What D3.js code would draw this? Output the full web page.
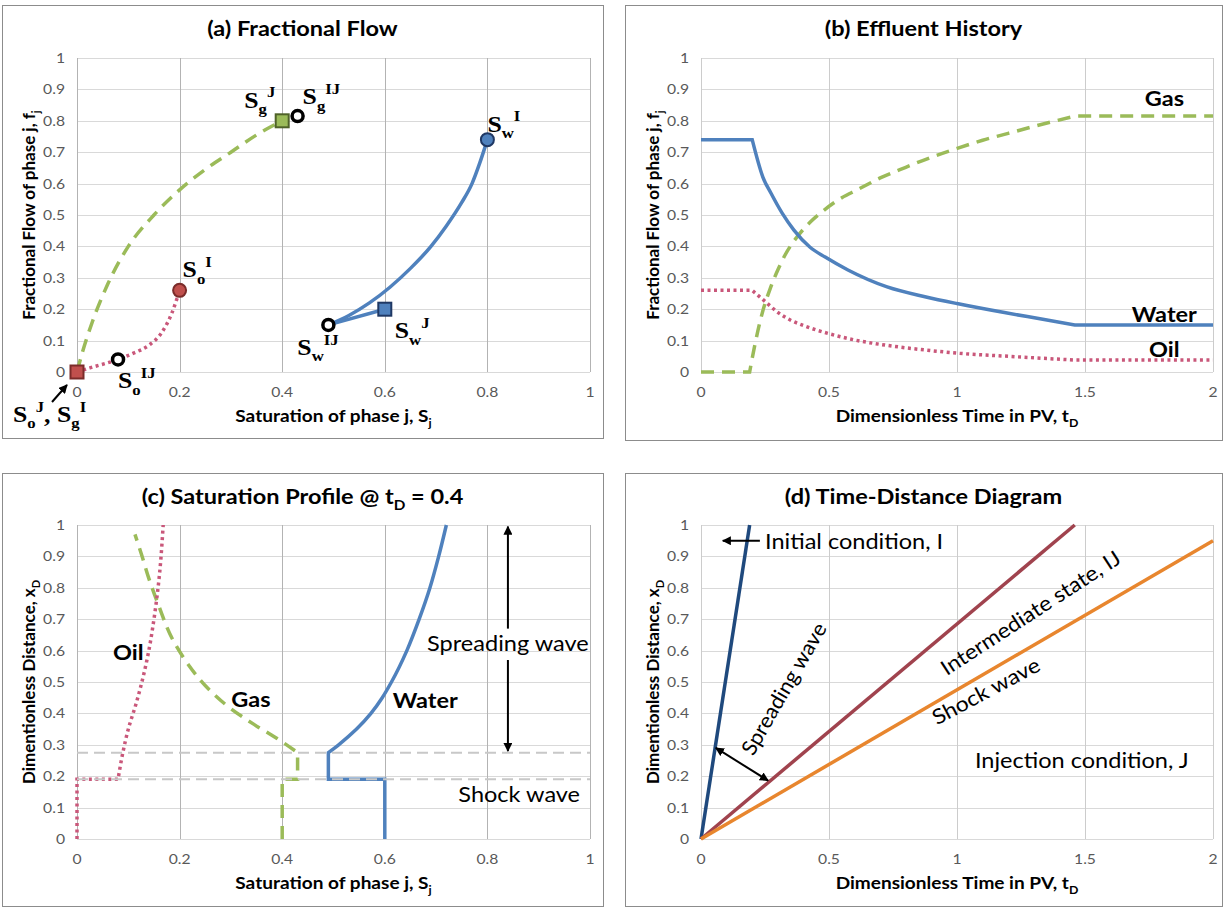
<!DOCTYPE html>
<html lang="en">
<head>
<meta charset="UTF-8">
<style>
  body { margin: 0; background: #fff; }
  svg text { font-family: Lato, "Open Sans", sans-serif; }
  .tick { fill: #595959; font-size: 14px; }
  .axis-title { font-weight: bold; font-size: 17px; }
  .panel-title { font-weight: bold; font-size: 21px; }
  .pt { font-family: "Liberation Serif", "Times New Roman", serif; font-weight: bold; font-size: 23px; }
  .bold-lbl { font-weight: bold; font-size: 21px; }
  .note { font-size: 21px; }
</style>
</head>
<body>
<svg id="fig" width="1225" height="909"></svg>
<script src="https://cdnjs.cloudflare.com/ajax/libs/d3/7.8.5/d3.min.js"></script>
<script>
// tick values
const satTicks = [0, 0.2, 0.4, 0.6, 0.8, 1]
const timeTicks = [0, 0.5, 1, 1.5, 2]
const unitTicks = [0, 0.1, 0.2, 0.3, 0.4, 0.5, 0.6, 0.7, 0.8, 0.9, 1]

// (a) fractional flow vs saturation
const gasFracS = [0, 0.01, 0.03, 0.06, 0.1, 0.15, 0.2, 0.25, 0.3, 0.35, 0.4]
const gasFracF = [0, 0.06, 0.16, 0.28, 0.4, 0.5, 0.58, 0.645, 0.7, 0.755, 0.8]
const oilFracS = [0, 0.025, 0.08, 0.11, 0.14, 0.165, 0.185, 0.2]
const oilFracF = [0, 0.013, 0.04, 0.06, 0.085, 0.125, 0.188, 0.26]
const waterFracS = [0.49, 0.53, 0.57, 0.61, 0.65, 0.69, 0.72, 0.75, 0.77, 0.785, 0.8]
const waterFracF = [0.15, 0.18, 0.22, 0.27, 0.33, 0.4, 0.465, 0.54, 0.6, 0.665, 0.74]
const waterJumpS = [0.49, 0.6]
const waterJumpF = [0.15, 0.2]
// states: J squares, I filled circles, IJ open circles
const jPhase = ['oil', 'gas', 'water']
const jS = [0, 0.4, 0.6]
const jF = [0, 0.8, 0.2]
const iPhase = ['oil', 'water']
const iS = [0.2, 0.8]
const iF = [0.26, 0.74]
const ijS = [0.08, 0.43, 0.49]
const ijF = [0.04, 0.815, 0.15]

// (b) effluent history
const waterHistT = [0, 0.2, 0.242, 0.273, 0.317, 0.363, 0.425, 0.485, 0.574, 0.727, 0.879, 1.0, 1.18, 1.335, 1.46, 2]
const waterHistF = [0.74, 0.74, 0.62, 0.57, 0.506, 0.452, 0.398, 0.366, 0.325, 0.271, 0.239, 0.218, 0.19, 0.168, 0.15, 0.15]
const gasHistT = [0, 0.19, 0.21, 0.24, 0.27, 0.3, 0.33, 0.38, 0.43, 0.48, 0.55, 0.61, 0.7, 0.8, 0.9, 1.0, 1.1, 1.2, 1.3, 1.46, 2]
const gasHistF = [0, 0, 0.085, 0.19, 0.265, 0.325, 0.375, 0.435, 0.48, 0.515, 0.555, 0.58, 0.618, 0.652, 0.684, 0.712, 0.738, 0.76, 0.782, 0.815, 0.815]
const oilHistT = [0, 0.2, 0.25, 0.3, 0.35, 0.4, 0.5, 0.6, 0.7, 0.8, 0.9, 1.0, 1.2, 1.46, 2]
const oilHistF = [0.26, 0.26, 0.225, 0.19, 0.165, 0.148, 0.122, 0.102, 0.088, 0.077, 0.068, 0.06, 0.05, 0.038, 0.038]

// (c) saturation profile at tD = 0.4 (shock steps, then spreading part)
const oilProfS = [0, 0, 0.08, 0.09, 0.1, 0.115, 0.128, 0.14, 0.15, 0.16, 0.168]
const oilProfX = [0, 0.19, 0.19, 0.28, 0.35, 0.43, 0.51, 0.6, 0.7, 0.83, 1.0]
const gasProfS = [0.4, 0.4, 0.43, 0.43, 0.39, 0.345, 0.3, 0.255, 0.215, 0.185, 0.16, 0.14, 0.125, 0.113]
const gasProfX = [0, 0.19, 0.19, 0.275, 0.32, 0.365, 0.415, 0.48, 0.56, 0.64, 0.74, 0.83, 0.91, 0.97]
const waterProfS = [0.6, 0.6, 0.49, 0.49, 0.51, 0.545, 0.573, 0.595, 0.613, 0.643, 0.667, 0.688, 0.705, 0.72]
const waterProfX = [0, 0.19, 0.19, 0.275, 0.3, 0.35, 0.4, 0.45, 0.5, 0.6, 0.7, 0.8, 0.9, 1.0]
const shockFronts = [0.275, 0.19]

// (d) time-distance diagram: characteristic lines from origin
const tdNames = ['initial', 'intermediate', 'shock']
const tdEndT = [0.19, 1.46, 2]
const tdEndX = [1, 1, 0.95]

const col = { water: '#4f81bd', gas: '#9bbb59', oil: '#c9577a' }
const fill = { oil: '#c0504d', gas: '#9bbb59', water: '#4f81bd' }
const edge = { oil: '#7b2c2a', gas: '#4f6228', water: '#1f3864' }
const tdCol = { initial: '#1f497d', intermediate: '#a0434e', shock: '#e8862e' }
const dash = { water: null, gas: '13,8', oil: '3,3.5' }

const svg = d3.select('#fig')
svg.append('defs').append('marker')
    .attr('id', 'arr')
    .attr('viewBox', '0 0 10 10')
    .attr('refX', 9).attr('refY', 5)
    .attr('markerWidth', 4.5).attr('markerHeight', 4.5)
    .attr('orient', 'auto-start-reverse')
  .append('path').attr('d', 'M0,0L10,5L0,10z').attr('fill', '#000')

// text with sub/superscripts: parts = [[text, 'n'|'sub'|'sup'], ...]
function rich(sel, parts, size) {
  let cur = 0
  for (const [txt, kind] of parts) {
    const off = kind === 'sub' ? size * 0.28 : kind === 'sup' ? -size * 0.45 : 0
    const ts = sel.append('tspan').attr('dy', off - cur).text(txt)
    if (kind !== 'n') ts.attr('font-size', size * 0.65)
    cur = off
  }
  return sel
}

// straight lines over the flat runs at both ends, smooth curve between
// (keeps the sharp corners where the plateaus meet the curve)
function kinkedPath(pts, x, y, curve) {
  const n = pts.length
  let i0 = 0
  while (i0 + 1 < n && pts[i0 + 1][1] === pts[0][1]) i0++
  let i1 = n - 1
  while (i1 - 1 > i0 && pts[i1 - 1][1] === pts[n - 1][1]) i1--
  const lin = d3.line().x(d => x(d[0])).y(d => y(d[1]))
  const cur = d3.line().x(d => x(d[0])).y(d => y(d[1])).curve(curve)
  let d = lin(pts.slice(0, i0 + 1).concat([pts[i0]]))
  d += cur(pts.slice(i0, i1 + 1)).replace(/^M/, 'L')
  if (i1 < n - 1) d += lin(pts.slice(i1)).replace(/^M/, 'L')
  return d
}

// straight shock steps up to index k, smooth spreading curve after it
function stepCurvePath(pts, k, x, y) {
  const lin = d3.line().x(d => x(d[0])).y(d => y(d[1]))
  const cur = d3.line().x(d => x(d[0])).y(d => y(d[1])).curve(d3.curveMonotoneY)
  return lin(pts.slice(0, k + 1)) + cur(pts.slice(k)).replace(/^M/, 'L')
}

function panel(cfg) {
  const [bx0, by0, bx1, by1] = cfg.box
  const [l, t, r, b] = cfg.plot
  const g = svg.append('g')
  g.append('rect')
    .attr('x', bx0 + 0.5).attr('y', by0 + 0.5)
    .attr('width', bx1 - bx0).attr('height', by1 - by0)
    .attr('fill', '#fff').attr('stroke', '#8c8c8c')

  const x = d3.scaleLinear().domain(cfg.xDomain).range([l, r])
  const y = d3.scaleLinear().domain([0, 1]).range([b, t])

  g.append('g').selectAll('line').data(unitTicks).join('line')
    .attr('x1', l).attr('x2', r)
    .attr('y1', d => Math.round(y(d)) + 0.5).attr('y2', d => Math.round(y(d)) + 0.5)
    .attr('stroke', '#d9d9d9')
  g.append('g').selectAll('line').data(cfg.xTicks).join('line')
    .attr('x1', d => Math.round(x(d)) + 0.5).attr('x2', d => Math.round(x(d)) + 0.5)
    .attr('y1', t).attr('y2', b)
    .attr('stroke', cfg.vGrid)

  g.append('g').selectAll('text').data(unitTicks).join('text')
    .attr('class', 'tick')
    .attr('x', l - 12).attr('y', d => y(d) + 5)
    .attr('text-anchor', 'end')
    .text(d => String(d))
  g.append('g').selectAll('text').data(cfg.xTicks).join('text')
    .attr('class', 'tick')
    .attr('x', d => x(d)).attr('y', b + 25)
    .attr('text-anchor', 'middle')
    .text(d => String(d))

  rich(g.append('text').attr('class', 'axis-title')
      .attr('x', (l + r) / 2).attr('y', b + 50).attr('text-anchor', 'middle'),
    cfg.xTitle, 17)
  rich(g.append('text').attr('class', 'axis-title')
      .attr('transform', `translate(${l - 42},${(t + b) / 2}) rotate(-90)`)
      .attr('text-anchor', 'middle'),
    cfg.yTitle, 17)
  rich(g.append('text').attr('class', 'panel-title')
      .attr('x', (bx0 + bx1) / 2).attr('y', by0 + 31).attr('text-anchor', 'middle'),
    cfg.title, 21)

  return { g, x, y }
}

const satTitle = [['Saturation of phase j, S', 'n'], ['j', 'sub']]
const timeTitle = [['Dimensionless Time in PV, t', 'n'], ['D', 'sub']]
const fracTitle = [['Fractional Flow of phase j, f', 'n'], ['j', 'sub']]
const distTitle = [['Dimentionless Distance, x', 'n'], ['D', 'sub']]

// ---------- (a) ----------
const A = panel({
  box: [2, 5, 603, 438], plot: [77, 58, 590, 372],
  xDomain: [0, 1], xTicks: satTicks, vGrid: '#b3b3b3',
  xTitle: satTitle, yTitle: fracTitle,
  title: [['(a) Fractional Flow', 'n']]
})
const lineA = d3.line().x(d => A.x(d[0])).y(d => A.y(d[1])).curve(d3.curveMonotoneX)

const aCurves = [
  ['gas', d3.zip(gasFracS, gasFracF)],
  ['oil', d3.zip(oilFracS, oilFracF)],
  ['water', d3.zip(waterFracS, waterFracF)],
  ['water', d3.zip(waterJumpS, waterJumpF)]
]
A.g.append('g').selectAll('path').data(aCurves).join('path')
  .attr('d', d => lineA(d[1]))
  .attr('fill', 'none').attr('stroke', d => col[d[0]]).attr('stroke-width', 3.5)
  .attr('stroke-dasharray', d => dash[d[0]])

A.g.append('g').selectAll('rect').data(d3.zip(jS, jF, jPhase)).join('rect')
  .attr('x', d => A.x(d[0]) - 6.5).attr('y', d => A.y(d[1]) - 6.5)
  .attr('width', 13).attr('height', 13)
  .attr('fill', d => fill[d[2]]).attr('stroke', d => edge[d[2]]).attr('stroke-width', 2)
A.g.append('g').selectAll('circle').data(d3.zip(iS, iF, iPhase)).join('circle')
  .attr('cx', d => A.x(d[0])).attr('cy', d => A.y(d[1])).attr('r', 6.5)
  .attr('fill', d => fill[d[2]]).attr('stroke', d => edge[d[2]]).attr('stroke-width', 2)
A.g.append('g').selectAll('circle').data(d3.zip(ijS, ijF)).join('circle')
  .attr('cx', d => A.x(d[0])).attr('cy', d => A.y(d[1])).attr('r', 5.5)
  .attr('fill', '#fff').attr('stroke', '#000').attr('stroke-width', 3.5)

const aLabels = [
  { at: [jS[0], jF[0]], dx: -64, dy: 50, parts: [['S', 'n'], ['o', 'sub'], ['J', 'sup'], [', S', 'n'], ['g', 'sub'], ['I', 'sup']] },
  { at: [jS[1], jF[1]], dx: -38, dy: -13, parts: [['S', 'n'], ['g', 'sub'], ['J', 'sup']] },
  { at: [jS[2], jF[2]], dx: 10, dy: 29, parts: [['S', 'n'], ['w', 'sub'], ['J', 'sup']] },
  { at: [iS[0], iF[0]], dx: 3, dy: -13, parts: [['S', 'n'], ['o', 'sub'], ['I', 'sup']] },
  { at: [iS[1], iF[1]], dx: 0, dy: -8, parts: [['S', 'n'], ['w', 'sub'], ['I', 'sup']] },
  { at: [ijS[0], ijF[0]], dx: 0, dy: 29, parts: [['S', 'n'], ['o', 'sub'], ['IJ', 'sup']] },
  { at: [ijS[1], ijF[1]], dx: 5, dy: -12, parts: [['S', 'n'], ['g', 'sub'], ['IJ', 'sup']] },
  { at: [ijS[2], ijF[2]], dx: -31, dy: 30, parts: [['S', 'n'], ['w', 'sub'], ['IJ', 'sup']] }
]
aLabels.forEach(lb => {
  rich(A.g.append('text').attr('class', 'pt')
      .attr('x', A.x(lb.at[0]) + lb.dx).attr('y', A.y(lb.at[1]) + lb.dy),
    lb.parts, 23)
})
A.g.append('line')
  .attr('x1', A.x(0) - 25).attr('y1', A.y(0) + 30)
  .attr('x2', A.x(0) - 10).attr('y2', A.y(0) + 13)
  .attr('stroke', '#000').attr('stroke-width', 2).attr('marker-end', 'url(#arr)')

// ---------- (b) ----------
const B = panel({
  box: [625, 5, 1222, 440], plot: [701, 58, 1213, 372],
  xDomain: [0, 2], xTicks: timeTicks, vGrid: '#cccccc',
  xTitle: timeTitle, yTitle: fracTitle,
  title: [['(b) Effluent History', 'n']]
})
const bCurves = [
  ['gas', d3.zip(gasHistT, gasHistF)],
  ['oil', d3.zip(oilHistT, oilHistF)],
  ['water', d3.zip(waterHistT, waterHistF)]
]
B.g.append('g').selectAll('path').data(bCurves).join('path')
  .attr('d', d => kinkedPath(d[1], B.x, B.y, d3.curveMonotoneX))
  .attr('fill', 'none').attr('stroke', d => col[d[0]]).attr('stroke-width', 3.5)
  .attr('stroke-dasharray', d => dash[d[0]])

const bLabels = [['Gas', 1.81, 0.847], ['Water', 1.81, 0.159], ['Oil', 1.81, 0.048]]
B.g.append('g').selectAll('text').data(bLabels).join('text')
  .attr('class', 'bold-lbl').attr('text-anchor', 'middle')
  .attr('x', d => B.x(d[1])).attr('y', d => B.y(d[2]))
  .text(d => d[0])

// ---------- (c) ----------
const C = panel({
  box: [2, 473, 603, 906], plot: [77, 525, 590, 839],
  xDomain: [0, 1], xTicks: satTicks, vGrid: '#b3b3b3',
  xTitle: satTitle, yTitle: distTitle,
  title: [['(c) Saturation Profile @ t', 'n'], ['D', 'sub'], [' = 0.4', 'n']]
})
const cCurves = [
  ['gas', d3.zip(gasProfS, gasProfX), 3],
  ['oil', d3.zip(oilProfS, oilProfX), 2],
  ['water', d3.zip(waterProfS, waterProfX), 3]
]
C.g.append('g').selectAll('path').data(cCurves).join('path')
  .attr('d', d => stepCurvePath(d[1], d[2], C.x, C.y))
  .attr('fill', 'none').attr('stroke', d => col[d[0]]).attr('stroke-width', 3.5)
  .attr('stroke-dasharray', d => dash[d[0]])
C.g.append('g').selectAll('line').data(shockFronts).join('line')
  .attr('x1', C.x(0)).attr('x2', C.x(1))
  .attr('y1', d => C.y(d)).attr('y2', d => C.y(d))
  .attr('stroke', '#c8c8c8').attr('stroke-width', 2).attr('stroke-dasharray', '11,6')

const cBold = [['Oil', 0.1, 0.57], ['Gas', 0.339, 0.42], ['Water', 0.679, 0.417]]
C.g.append('g').selectAll('text').data(cBold).join('text')
  .attr('class', 'bold-lbl').attr('text-anchor', 'middle')
  .attr('x', d => C.x(d[1])).attr('y', d => C.y(d[2]))
  .text(d => d[0])
const cNotes = [['Spreading wave', 0.84, 0.599], ['Shock wave', 0.862, 0.118]]
C.g.append('g').selectAll('text').data(cNotes).join('text')
  .attr('class', 'note').attr('text-anchor', 'middle')
  .attr('x', d => C.x(d[1])).attr('y', d => C.y(d[2]))
  .text(d => d[0])
C.g.append('line')
  .attr('x1', C.x(0.84)).attr('x2', C.x(0.84))
  .attr('y1', C.y(0.67)).attr('y2', C.y(0.995))
  .attr('stroke', '#000').attr('stroke-width', 2).attr('marker-end', 'url(#arr)')
C.g.append('line')
  .attr('x1', C.x(0.84)).attr('x2', C.x(0.84))
  .attr('y1', C.y(0.57)).attr('y2', C.y(0.28))
  .attr('stroke', '#000').attr('stroke-width', 2).attr('marker-end', 'url(#arr)')

// ---------- (d) ----------
const D = panel({
  box: [625, 473, 1222, 906], plot: [701, 525, 1213, 839],
  xDomain: [0, 2], xTicks: timeTicks, vGrid: '#cccccc',
  xTitle: timeTitle, yTitle: distTitle,
  title: [['(d) Time-Distance Diagram', 'n']]
})
D.g.append('g').selectAll('line').data(d3.zip(tdNames, tdEndT, tdEndX)).join('line')
  .attr('x1', D.x(0)).attr('y1', D.y(0))
  .attr('x2', d => D.x(d[1])).attr('y2', d => D.y(d[2]))
  .attr('stroke', d => tdCol[d[0]]).attr('stroke-width', 3.5)

D.g.append('line')
  .attr('x1', D.x(0.23)).attr('x2', D.x(0.085))
  .attr('y1', D.y(0.95)).attr('y2', D.y(0.95))
  .attr('stroke', '#000').attr('stroke-width', 2).attr('marker-end', 'url(#arr)')
D.g.append('line')
  .attr('x1', D.x(0.058)).attr('y1', D.y(0.29))
  .attr('x2', D.x(0.262)).attr('y2', D.y(0.186))
  .attr('stroke', '#000').attr('stroke-width', 2)
  .attr('marker-start', 'url(#arr)').attr('marker-end', 'url(#arr)')

const dNotes = [
  ['Initial condition, I', 0.25, 0.924, 0, 'start'],
  ['Injection condition, J', 1.07, 0.226, 0, 'start'],
  ['Spreading wave', 0.32, 0.48, -60, 'middle'],
  ['Intermediate state, IJ', 1.285, 0.723, -33, 'middle'],
  ['Shock wave', 1.111, 0.474, -28, 'middle']
]
D.g.append('g').selectAll('text').data(dNotes).join('text')
  .attr('class', 'note')
  .attr('text-anchor', d => d[4])
  .attr('dominant-baseline', d => d[3] ? 'central' : null)
  .attr('transform', d => `translate(${D.x(d[1])},${D.y(d[2])}) rotate(${d[3]})`)
  .text(d => d[0])

// the source figure is a little wider than its type: stretch horizontal text to suit
svg.selectAll('text').each(function () {
  const tr = this.getAttribute('transform') || ''
  const rot = /rotate\((-?[\d.]+)\)/.exec(tr)
  const ang = rot ? Math.abs(+rot[1]) * Math.PI / 180 : 0
  const k = 1 + 0.12 * Math.cos(ang) ** 2
  const w = this.getComputedTextLength()
  this.setAttribute('textLength', (w * k).toFixed(1))
  this.setAttribute('lengthAdjust', 'spacingAndGlyphs')
})
</script>
</body>
</html>
